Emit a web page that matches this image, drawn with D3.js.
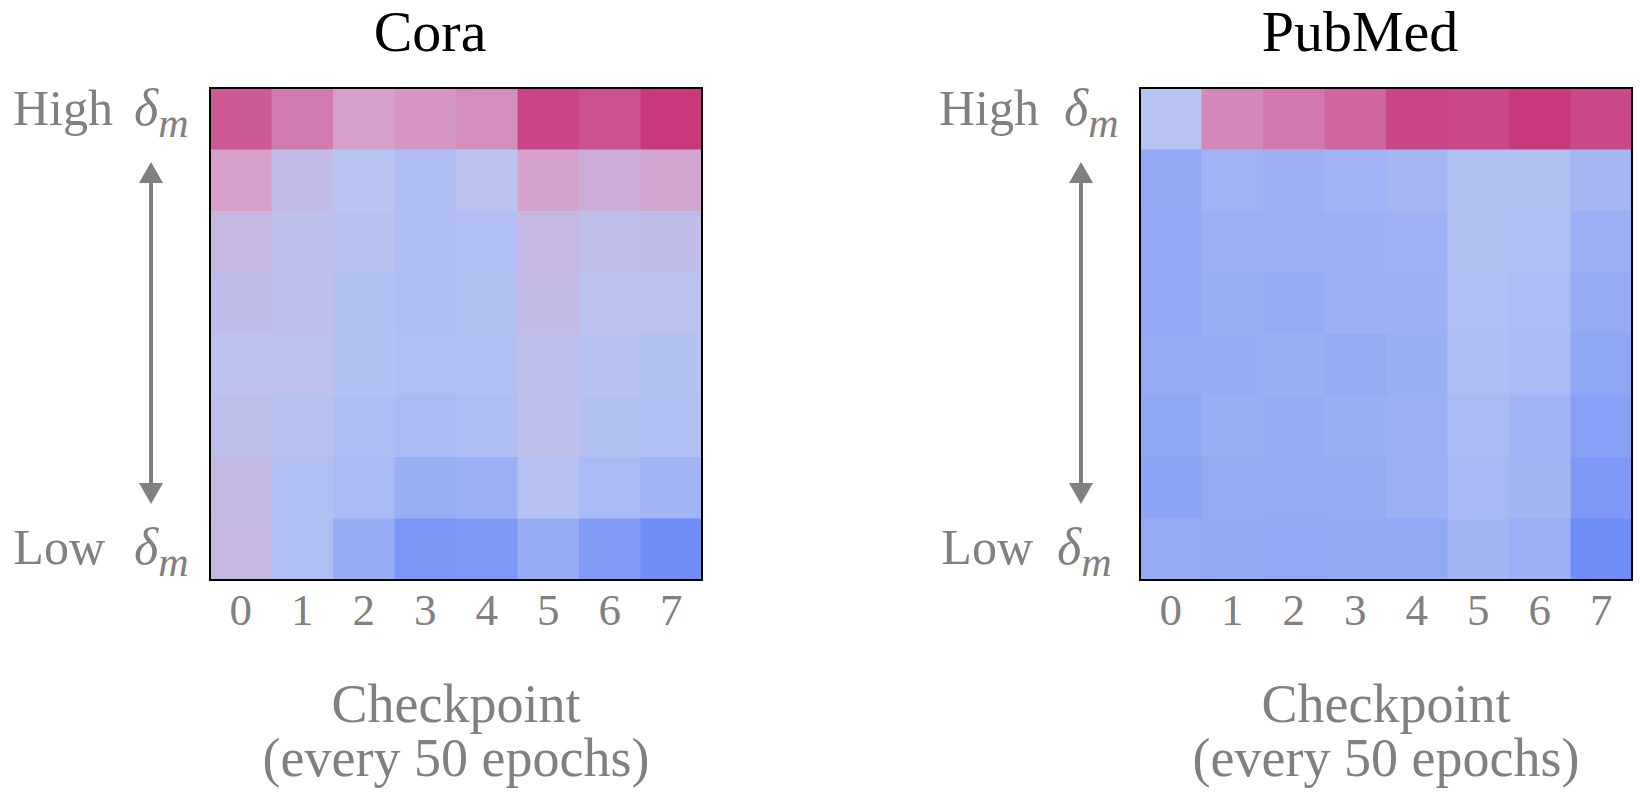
<!DOCTYPE html>
<html>
<head>
<meta charset="utf-8">
<script src="https://cdn.jsdelivr.net/npm/d3@7/dist/d3.min.js"></script>
<style>
  html, body { margin: 0; padding: 0; background: #ffffff; }
  svg { display: block; }
  text { font-family: "Liberation Serif", "DejaVu Serif", serif; }
</style>
</head>
<body>
<svg id="chart" width="1640" height="793"></svg>
<script>
// Checkpoints along the x axis (one every 50 epochs)
const checkpoints = [0, 1, 2, 3, 4, 5, 6, 7];
// Rows are delta_m bins, ordered from highest (top) to lowest (bottom)
const deltaBins = ["b0", "b1", "b2", "b3", "b4", "b5", "b6", "b7"];

// Normalised cell scores per bin (row) and checkpoint (column)
const coraValues = [
  [0.92, 0.84, 0.72, 0.75, 0.78, 0.97, 0.94, 1.00],
  [0.72, 0.58, 0.50, 0.44, 0.52, 0.71, 0.66, 0.69],
  [0.62, 0.54, 0.49, 0.44, 0.45, 0.62, 0.56, 0.57],
  [0.57, 0.54, 0.47, 0.44, 0.47, 0.59, 0.52, 0.52],
  [0.53, 0.53, 0.47, 0.45, 0.46, 0.54, 0.49, 0.47],
  [0.55, 0.49, 0.44, 0.41, 0.44, 0.54, 0.47, 0.46],
  [0.60, 0.46, 0.41, 0.31, 0.32, 0.49, 0.41, 0.36],
  [0.62, 0.45, 0.29, 0.10, 0.12, 0.29, 0.15, 0.03]
];
const pubmedValues = [
  [0.50, 0.79, 0.85, 0.89, 0.97, 0.96, 1.00, 0.96],
  [0.27, 0.35, 0.33, 0.35, 0.38, 0.47, 0.47, 0.38],
  [0.26, 0.32, 0.32, 0.33, 0.34, 0.47, 0.46, 0.32],
  [0.26, 0.31, 0.28, 0.32, 0.33, 0.45, 0.43, 0.28],
  [0.28, 0.29, 0.31, 0.28, 0.31, 0.44, 0.41, 0.24],
  [0.24, 0.31, 0.29, 0.31, 0.32, 0.41, 0.36, 0.19],
  [0.23, 0.28, 0.28, 0.28, 0.32, 0.40, 0.37, 0.13],
  [0.28, 0.27, 0.26, 0.27, 0.27, 0.37, 0.32, 0.03]
];

const panelTitles = ["Cora", "PubMed"];
const highWord = "High";
const lowWord = "Low";
const xLabelLines = ["Checkpoint", "(every 50 epochs)"];

// Colour ramp: blue (low) -> pale periwinkle -> lavender -> pink -> magenta (high)
const color = d3.scaleLinear()
  .domain([0, 0.5, 0.62, 0.72, 0.85, 1])
  .range(["#6a8af7", "#b8c4f2", "#c6b6e2", "#d6a0c8", "#d278ac", "#c8387b"])
  .interpolate(d3.interpolateRgb)
  .clamp(true);

const svg = d3.select("#chart");
const grey = "#808080";
const size = 492;
const gridTop = 88;

const panels = [
  { title: panelTitles[0], values: coraValues, left: 210, titleX: 430,
    highEnd: 113, lowEnd: 105, symHigh: 134, symLow: 134 },
  { title: panelTitles[1], values: pubmedValues, left: 1140, titleX: 1360,
    highEnd: 1039, lowEnd: 1033, symHigh: 1064, symLow: 1057 }
];

panels.forEach(p => {
  const g = svg.append("g");
  const x = d3.scaleBand().domain(checkpoints).range([p.left, p.left + size]);
  const y = d3.scaleBand().domain(deltaBins).range([gridTop, gridTop + size]);

  // cells
  const cells = [];
  p.values.forEach((row, i) => row.forEach((v, j) => cells.push({ r: deltaBins[i], c: checkpoints[j], v })));
  g.selectAll("rect.cell").data(cells).enter().append("rect")
    .attr("class", "cell")
    .attr("x", d => x(d.c))
    .attr("y", d => y(d.r))
    .attr("width", x.bandwidth() + 0.5)
    .attr("height", y.bandwidth() + 0.5)
    .attr("fill", d => color(d.v));

  // frame
  g.append("rect")
    .attr("x", p.left).attr("y", gridTop)
    .attr("width", size).attr("height", size)
    .attr("fill", "none").attr("stroke", "#000").attr("stroke-width", 2);

  // x axis tick labels
  const axis = d3.axisBottom(x).tickSize(0).tickPadding(0);
  const ax = g.append("g").attr("transform", `translate(0,${gridTop + size})`).call(axis);
  ax.select(".domain").remove();
  ax.selectAll("text")
    .attr("y", 45).attr("dy", null)
    .attr("fill", grey)
    .style("font-size", "45px")
    .style("font-family", "'Liberation Serif', serif");

  // title
  g.append("text").attr("x", p.titleX).attr("y", 51)
    .attr("text-anchor", "middle").attr("fill", "#000")
    .style("font-size", "58px").text(p.title);

  // x axis label, two lines
  const cx = p.left + size / 2;
  const xl = g.append("text").attr("x", cx).attr("y", 722).attr("text-anchor", "middle")
    .attr("fill", grey).style("font-size", "54px");
  xl.append("tspan").attr("x", cx).text(xLabelLines[0]);
  xl.append("tspan").attr("x", cx).attr("dy", 54).text(xLabelLines[1]);

  // High / Low delta_m labels
  const addSym = (sx, by) => {
    const t = g.append("text").attr("x", sx).attr("y", by).attr("fill", grey);
    t.append("tspan").style("font-style", "italic").style("font-size", "52px").text("δ");
    t.append("tspan").style("font-style", "italic").style("font-size", "42px")
      .attr("dy", 12).text("m");
  };
  g.append("text").attr("x", p.highEnd).attr("y", 125).attr("text-anchor", "end")
    .attr("fill", grey).style("font-size", "50px").text(highWord);
  addSym(p.symHigh, 125);
  g.append("text").attr("x", p.lowEnd).attr("y", 564).attr("text-anchor", "end")
    .attr("fill", grey).style("font-size", "50px").text(lowWord);
  addSym(p.symLow, 564);

  // double-headed arrow between the labels
  const ax0 = p.left - 59;
  const yTop = 162, yBot = 504, head = 21, hw = 12;
  g.append("line").attr("x1", ax0).attr("x2", ax0)
    .attr("y1", yTop + head - 1).attr("y2", yBot - head + 1)
    .attr("stroke", grey).attr("stroke-width", 4);
  g.append("path")
    .attr("d", `M${ax0},${yTop} L${ax0 + hw},${yTop + head} L${ax0 - hw},${yTop + head} Z`)
    .attr("fill", grey);
  g.append("path")
    .attr("d", `M${ax0},${yBot} L${ax0 + hw},${yBot - head} L${ax0 - hw},${yBot - head} Z`)
    .attr("fill", grey);
});
</script>
</body>
</html>
